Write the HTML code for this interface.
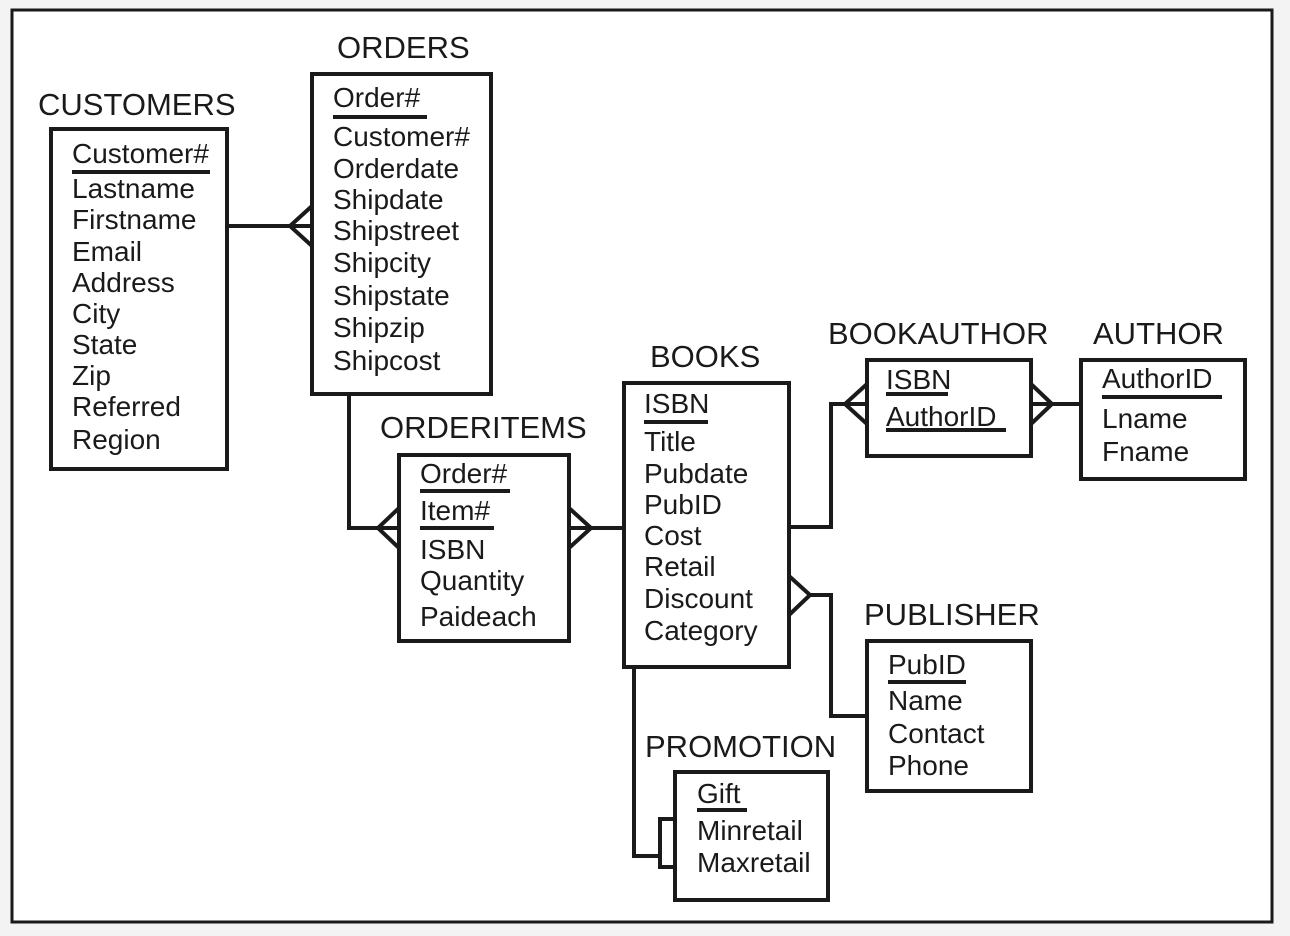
<!DOCTYPE html>
<html><head><style>
html,body{margin:0;padding:0;background:#fff;}
svg{display:block;}
text{font-family:"Liberation Sans",sans-serif;fill:#1a1a1a;}
.t{font-size:31px;}
.f{font-size:28px;}
</style></head><body>
<svg width="1290" height="936" viewBox="0 0 1290 936" xmlns="http://www.w3.org/2000/svg">
<rect x="0" y="0" width="1290" height="936" fill="#f3f3f3"/>
<rect x="12" y="10" width="1260" height="912" fill="#fff" stroke="#1a1a1a" stroke-width="3"/>
<g fill="none" stroke="#1a1a1a" stroke-width="4">
<rect x="51" y="129" width="176" height="340"/>
<rect x="312" y="74" width="179" height="320"/>
<rect x="399" y="455" width="170" height="186"/>
<rect x="624" y="383" width="165" height="284"/>
<rect x="867" y="360" width="164" height="96"/>
<rect x="1081" y="360" width="164" height="119"/>
<rect x="867" y="641" width="164" height="150"/>
<rect x="675" y="772" width="153" height="128"/>
<path d="M227 226 H312 M312 206 L290 226 L312 246"/>
<path d="M349 394 V528 H399 M399 508 L378 528 L399 548"/>
<path d="M569 528 H624 M569 508 L591 528 L569 548"/>
<path d="M789 527 H831 V404 H867 M867 384 L845 404 L867 424"/>
<path d="M1031 404 H1081 M1031 384 L1052 404 L1031 424"/>
<path d="M789 576 L810 595 L789 615 M810 595 H831 V716 H867"/>
<path d="M634 667 V856 H660 M675 819 H660 V867 H675"/>
<path d="M72 172 H210 M333 117 H427 M420 491 H510 M420 528 H494 M644 422 H708 M886 394 H948 M886 430 H1006 M1102 397 H1222 M888 682 H966 M697 810 H747"/>
</g>
<text class="t" x="38" y="115">CUSTOMERS</text>
<text class="t" x="337" y="58">ORDERS</text>
<text class="t" x="380" y="438">ORDERITEMS</text>
<text class="t" x="650" y="367">BOOKS</text>
<text class="t" x="828" y="344">BOOKAUTHOR</text>
<text class="t" x="1093" y="344">AUTHOR</text>
<text class="t" x="864" y="625">PUBLISHER</text>
<text class="t" x="645" y="757">PROMOTION</text>
<g class="f">
<text x="72" y="163">Customer#</text><text x="72" y="198">Lastname</text><text x="72" y="229">Firstname</text><text x="72" y="261">Email</text><text x="72" y="292">Address</text><text x="72" y="323">City</text><text x="72" y="354">State</text><text x="72" y="385">Zip</text><text x="72" y="416">Referred</text><text x="72" y="449">Region</text>
<text x="333" y="107">Order#</text><text x="333" y="146">Customer#</text><text x="333" y="178">Orderdate</text><text x="333" y="209">Shipdate</text><text x="333" y="240">Shipstreet</text><text x="333" y="272">Shipcity</text><text x="333" y="305">Shipstate</text><text x="333" y="337">Shipzip</text><text x="333" y="370">Shipcost</text>
<text x="420" y="483">Order#</text><text x="420" y="520">Item#</text><text x="420" y="559">ISBN</text><text x="420" y="590">Quantity</text><text x="420" y="626">Paideach</text>
<text x="644" y="413">ISBN</text><text x="644" y="451">Title</text><text x="644" y="483">Pubdate</text><text x="644" y="514">PubID</text><text x="644" y="545">Cost</text><text x="644" y="576">Retail</text><text x="644" y="608">Discount</text><text x="644" y="640">Category</text>
<text x="886" y="389">ISBN</text><text x="886" y="426">AuthorID</text>
<text x="1102" y="388">AuthorID</text><text x="1102" y="428">Lname</text><text x="1102" y="461">Fname</text>
<text x="888" y="674">PubID</text><text x="888" y="710">Name</text><text x="888" y="743">Contact</text><text x="888" y="775">Phone</text>
<text x="697" y="803">Gift</text><text x="697" y="840">Minretail</text><text x="697" y="872">Maxretail</text>
</g>
</svg>
</body></html>
